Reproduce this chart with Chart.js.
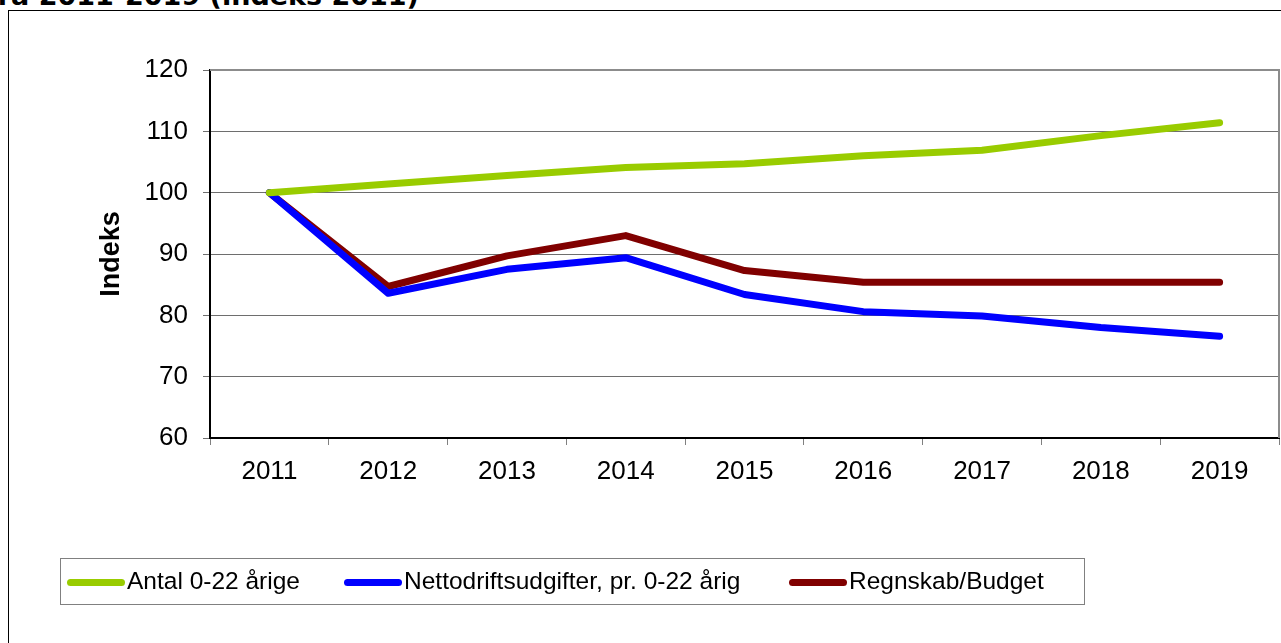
<!DOCTYPE html>
<html>
<head>
<meta charset="utf-8">
<script src="https://cdn.jsdelivr.net/npm/chart.js@4.4.1/dist/chart.umd.min.js"></script>
<style>
  html, body { margin: 0; padding: 0; background: #fff; }
  #wrap { position: relative; width: 1281px; height: 643px; overflow: hidden; }
  #frame { position: absolute; left: 8px; top: 10px; width: 1300px; height: 700px; border: 1px solid #000; }
  #title { position: absolute; left: -14px; top: -20px; font: bold 27px "DejaVu Sans", sans-serif; color: #000; white-space: nowrap; }
  #chart { position: absolute; left: 0; top: 0; }
  #legend { position: absolute; left: 60px; top: 558px; width: 1023px; height: 45px; border: 1px solid #808080; font: 24.5px "Liberation Sans", Arial, sans-serif; }
  .item { position: absolute; top: 8px; white-space: nowrap; }
  .swatch { display: inline-block; width: 58px; height: 7px; border-radius: 4px; vertical-align: middle; margin-right: 2px; }
</style>
</head>
<body>
<div id="wrap">
  <div id="title">fra 2011-2019 (indeks 2011)</div>
  <div id="frame"></div>
  <canvas id="chart" width="1281" height="643"></canvas>
  <div id="legend"></div>
</div>
<script>
// Data
const years = ["2011", "2012", "2013", "2014", "2015", "2016", "2017", "2018", "2019"];
const antal = [100, 101.4, 102.8, 104.1, 104.7, 106.0, 106.9, 109.3, 111.4];
const netto = [100, 83.6, 87.5, 89.4, 83.4, 80.6, 79.9, 78.0, 76.6];
const regnskab = [100, 84.7, 89.7, 93.0, 87.3, 85.4, 85.4, 85.4, 85.4];
const yTicks = [60, 70, 80, 90, 100, 110, 120];

const seriesNames = ["Antal 0-22 årige", "Nettodriftsudgifter, pr. 0-22 årig", "Regnskab/Budget"];
const seriesColors = ["#99CC00", "#0000FF", "#800000"];
const seriesData = [antal, netto, regnskab];

// gray frame around plot area (top + right edges show)
const plotFrame = {
    id: 'plotFrame',
    beforeDatasetsDraw(chart) {
        const a = chart.chartArea;
        const c = chart.ctx;
        c.save();
        c.strokeStyle = '#8c8c8c';
        c.lineWidth = 2;
        c.beginPath();
        c.moveTo(a.left, a.top);
        c.lineTo(a.right, a.top);
        c.lineTo(a.right, a.bottom);
        c.stroke();
        c.restore();
    }
};

const ctx = document.getElementById('chart').getContext('2d');
const chart = new Chart(ctx, {
    type: 'line',
    data: {
        labels: years,
        datasets: seriesData.map((d, i) => ({
            label: seriesNames[i],
            data: d,
            borderColor: seriesColors[i],
            backgroundColor: seriesColors[i],
            borderWidth: 7,
            borderCapStyle: 'round',
            borderJoinStyle: 'round',
            pointRadius: 0,
            tension: 0,
            fill: false
        }))
    },
    options: {
        responsive: false,
        animation: false,
        layout: { padding: { left: 95, top: 70, right: 2, bottom: 125 } },
        plugins: { legend: { display: false }, tooltip: { enabled: false } },
        scales: {
            x: {
                offset: true,
                grid: { drawOnChartArea: false, offset: true, tickLength: 7, color: '#808080' },
                border: { color: '#000', width: 2 },
                ticks: { color: '#000', padding: 11, font: { family: 'Liberation Sans', size: 26 } },
                afterFit(s) { s.height = 80; }
            },
            y: {
                min: 60,
                max: 120,
                afterBuildTicks(s) { s.ticks = yTicks.map(v => ({ value: v })); },
                grid: { color: '#6e6e6e', lineWidth: 1, tickLength: 7 },
                border: { color: '#000', width: 2 },
                ticks: { color: '#000', padding: 15, font: { family: 'Liberation Sans', size: 26 } },
                title: { display: true, text: 'Indeks', color: '#000', padding: { top: 0, bottom: 0 }, font: { family: 'Liberation Sans', size: 27, weight: 'bold' } },
                afterFit(s) { s.width = 115; }
            }
        }
    },
    plugins: [plotFrame]
});

// legend built from the datasets
const legend = document.getElementById('legend');
const itemLeft = [6, 283, 728];
seriesNames.forEach((name, i) => {
    const el = document.createElement('div');
    el.className = 'item';
    el.style.left = itemLeft[i] + 'px';
    el.innerHTML = '<span class="swatch" style="background:' + seriesColors[i] + '"></span>' + name;
    legend.appendChild(el);
});
</script>
</body>
</html>
